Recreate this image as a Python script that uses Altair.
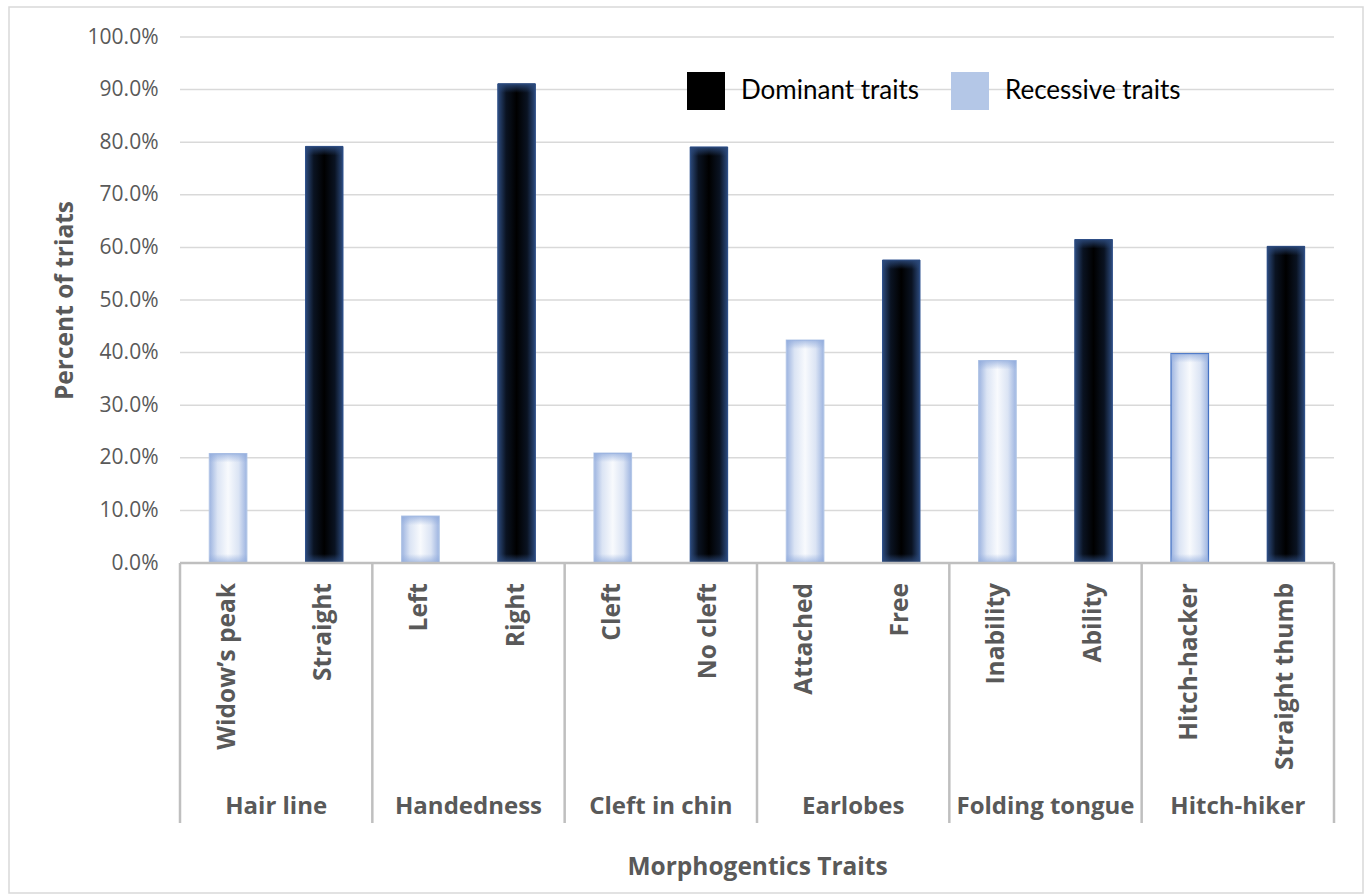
import altair as alt
import pandas as pd

# ---------------- data ----------------
traits = ["Widow’s peak", "Straight", "Left", "Right", "Cleft", "No cleft",
          "Attached", "Free", "Inability", "Ability", "Hitch-hacker", "Straight thumb"]
groups = ["Hair line", "Handedness", "Cleft in chin", "Earlobes", "Folding tongue", "Hitch-hiker"]
trait_kind = ["Recessive traits", "Dominant traits"] * 6
percents = [0.208, 0.792, 0.089, 0.911, 0.209, 0.791,
            0.424, 0.576, 0.385, 0.615, 0.398, 0.602]
y_ticks = [0.0, 0.1, 0.2, 0.3, 0.4, 0.5, 0.6, 0.7, 0.8, 0.9, 1.0]
legend_order = ["Dominant traits", "Recessive traits"]
legend_colors = ["#000000", "#b4c7e7"]

# ---------------- layout (page pixels) ----------------
FRAME_L, FRAME_T, FRAME_R, FRAME_B = 9, 7, 1363, 893
PLOT_L, PLOT_R = 180, 1334
Y0_PX, Y100_PX = 563, 37
SEP_BOTTOM = 823
W = FRAME_R - FRAME_L
H = FRAME_B - FRAME_T
n = len(traits)
ux = (PLOT_R - PLOT_L) / n
uy = (Y0_PX - Y100_PX)
x_dom = [-(PLOT_L - FRAME_L) / ux, n + (FRAME_R - PLOT_R) / ux]
y_dom = [-(FRAME_B - Y0_PX) / uy, 1 + (Y100_PX - FRAME_T) / uy]
BAR_FRAC = 0.39
GRAY = "#595959"
LINE = "#bfbfbf"

x_scale = alt.Scale(domain=x_dom, nice=False, zero=False)
y_scale = alt.Scale(domain=y_dom, nice=False, zero=False)

bars = pd.DataFrame({
    "idx": list(range(n)),
    "trait": traits,
    "kind": trait_kind,
    "value": percents,
    "group": [groups[i // 2] for i in range(n)],
})
bars["x0"] = bars["idx"] + (1 - BAR_FRAC) / 2
bars["x1"] = bars["idx"] + (1 + BAR_FRAC) / 2
bars["xc"] = bars["idx"] + 0.5

grid_df = pd.DataFrame({"tick": [t for t in y_ticks if t > 0]})
sep_df = pd.DataFrame({"b": [2 * g for g in range(len(groups) + 1)]})
grp_df = pd.DataFrame({"group": groups, "c": [2 * g + 1 for g in range(len(groups))]})

y_axis = alt.Axis(values=y_ticks, format=".1%", offset=-(PLOT_L - FRAME_L),
                  labelPadding=22, ticks=False, tickSize=0, domain=False, grid=False,
                  labelFont="Open Sans", labelFontSize=21, labelColor=GRAY,
                  title="Percent of triats", titleFont="Open Sans", titleFontSize=24.5,
                  titleFontWeight="bold", titleColor=GRAY, titleAngle=270,
                  titleX=72 - PLOT_L, titleY=(Y0_PX + Y100_PX) / 2 - FRAME_T,
                  titleAlign="center", titleBaseline="alphabetic", zindex=1)
x_axis = alt.Axis(labels=False, ticks=False, domain=False, grid=False,
                  title="Morphogentics Traits", titleFont="Open Sans", titleFontSize=24.5,
                  titleFontWeight="bold", titleColor=GRAY,
                  titleX=(PLOT_L + PLOT_R) / 2 - FRAME_L, titleY=867 - FRAME_B,
                  titleAlign="center", titleBaseline="middle", zindex=1)


def X(field):
    return alt.X(field, scale=x_scale, axis=x_axis)


def Y(field):
    return alt.Y(field, scale=y_scale, axis=y_axis)


grid = alt.Chart(grid_df).mark_rule(color="#d9d9d9", strokeWidth=1.5).encode(
    y=Y("tick:Q"),
    x=alt.XDatum(0, type="quantitative", scale=x_scale, axis=x_axis),
    x2=alt.X2Datum(n),
)

base = alt.Chart(bars)
legend_layer = base.mark_rect().encode(
    x=X("x0:Q"), x2="x1:Q",
    y=Y("value:Q"), y2=alt.Y2Datum(0),
    fill=alt.Fill("kind:N", scale=alt.Scale(domain=legend_order, range=legend_colors),
                  legend=alt.Legend(orient="none", legendX=678, legendY=65,
                                    direction="horizontal", title=None,
                                    symbolType="square", symbolSize=1444,
                                    symbolStrokeWidth=0, labelFont="Lato",
                                    labelFontSize=26, labelColor="#000000",
                                    labelOffset=16, columnPadding=31, labelLimit=400,
                                    labelBaseline="middle")),
)


def hgrad(edge, mid, center):
    return alt.Gradient(gradient="linear", x1=0, x2=1, y1=0, y2=0, stops=[
        alt.GradientStop(offset=0, color=edge),
        alt.GradientStop(offset=0.22, color=mid),
        alt.GradientStop(offset=0.5, color=center),
        alt.GradientStop(offset=0.78, color=mid),
        alt.GradientStop(offset=1, color=edge),
    ])


rec_layer = base.transform_filter(alt.datum.kind == "Recessive traits").mark_rect(
    fill=hgrad("#9db4e0", "#dbe4f4", "#f8fafd"), strokeWidth=1.2
).encode(
    x=X("x0:Q"), x2="x1:Q",
    y=Y("value:Q"), y2=alt.Y2Datum(0),
    stroke=alt.condition(alt.datum.trait == "Hitch-hacker", alt.value("#4472c4"), alt.value("#b4c7e7")),
)
dom_layer = base.transform_filter(alt.datum.kind == "Dominant traits").mark_rect(
    fill=hgrad("#2c4a7c", "#0a1322", "#000000"), stroke="#2f528f", strokeWidth=1
).encode(
    x=X("x0:Q"), x2="x1:Q",
    y=Y("value:Q"), y2=alt.Y2Datum(0),
)

# vertical edge shading, per bar (fade band ~9px)
vlayers = []
for t, k, v in zip(traits, trait_kind, percents):
    f = min(0.45, 9.0 / (v * uy))
    rgb = "143,170,220" if k == "Recessive traits" else "44,74,124"
    a = 0.75 if k == "Recessive traits" else 0.9
    g = alt.Gradient(gradient="linear", x1=0, x2=0, y1=0, y2=1, stops=[
        alt.GradientStop(offset=0, color=f"rgba({rgb},{a})"),
        alt.GradientStop(offset=f, color=f"rgba({rgb},0)"),
        alt.GradientStop(offset=1 - f, color=f"rgba({rgb},0)"),
        alt.GradientStop(offset=1, color=f"rgba({rgb},{a})"),
    ])
    vlayers.append(
        base.transform_filter(alt.datum.trait == t).mark_rect(fill=g).encode(
            x=X("x0:Q"), x2="x1:Q",
            y=Y("value:Q"), y2=alt.Y2Datum(0),
        )
    )

zero_line = alt.Chart(sep_df).transform_aggregate(lo="min(b)", hi="max(b)").mark_rule(
    color=LINE, strokeWidth=2.5).encode(
    x=X("lo:Q"), x2="hi:Q",
    y=alt.YDatum(0, type="quantitative", scale=y_scale, axis=y_axis),
)
seps = alt.Chart(sep_df).mark_rule(color=LINE, strokeWidth=2.5).encode(
    x=X("b:Q"),
    y=alt.YDatum(0, type="quantitative", scale=y_scale, axis=y_axis),
    y2=alt.value(SEP_BOTTOM - FRAME_T),
)
trait_text = base.mark_text(angle=270, align="right", baseline="middle",
                            font="Open Sans", fontSize=24.5, fontWeight="bold",
                            color=GRAY).encode(
    x=X("xc:Q"),
    y=alt.value(583 - FRAME_T),
    text="trait:N",
)
group_text = alt.Chart(grp_df).mark_text(align="center", baseline="alphabetic",
                                         font="Open Sans", fontSize=24, fontWeight="bold",
                                         color=GRAY).encode(
    x=X("c:Q"),
    y=alt.value(814 - FRAME_T),
    text="group:N",
)

chart = alt.layer(grid, legend_layer, rec_layer, dom_layer, *vlayers,
                  zero_line, seps, trait_text, group_text).properties(
    width=W, height=H,
    autosize=alt.AutoSizeParams(type="none"),
    padding={"left": FRAME_L, "top": FRAME_T, "right": 1364 - FRAME_R, "bottom": 894 - FRAME_B},
    background="white",
).configure_view(stroke="#d9d9d9", strokeWidth=1.5)

chart.save("out.html", embed_options={"renderer": "svg", "actions": False})
